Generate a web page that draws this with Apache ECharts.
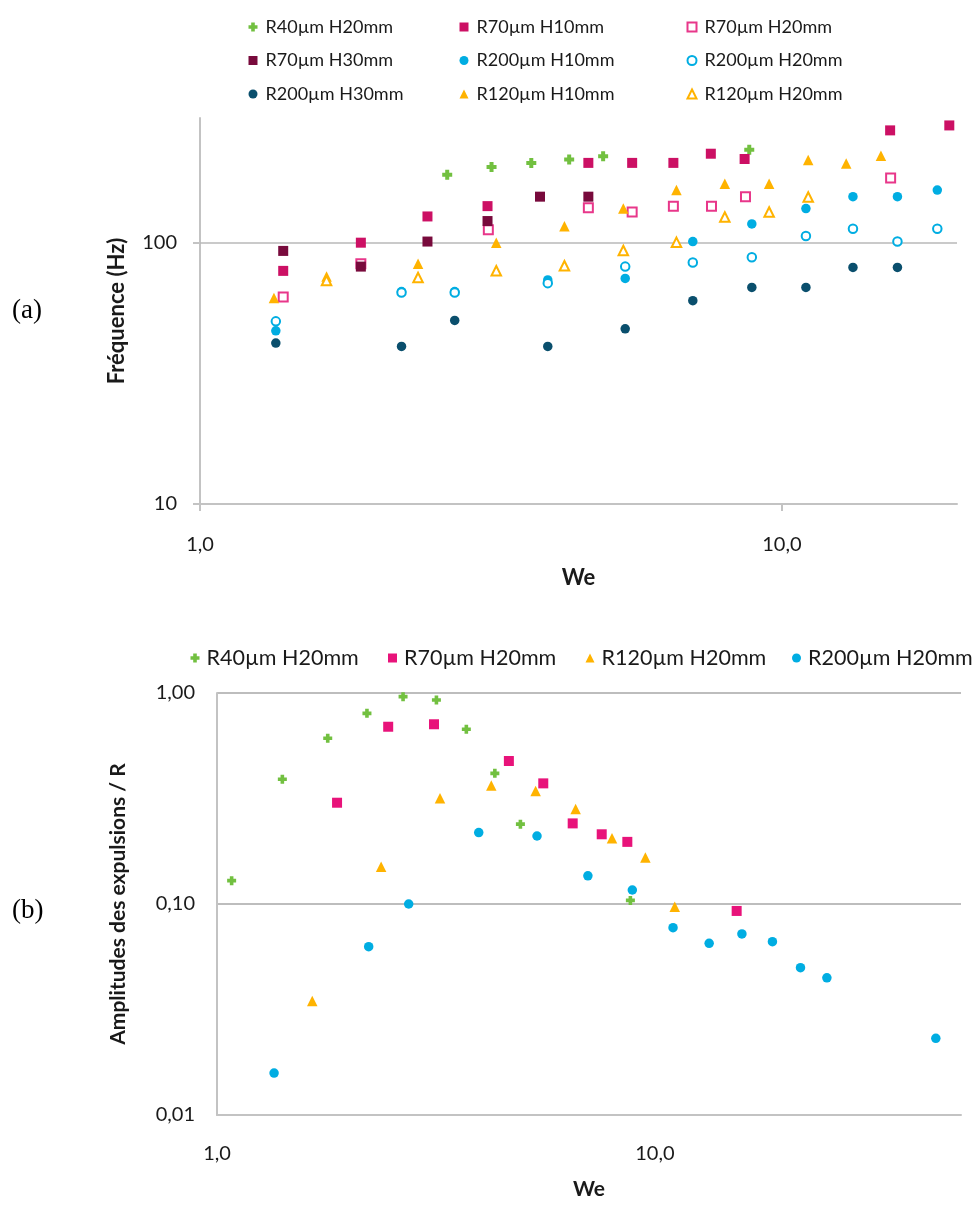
<!DOCTYPE html>
<html><head><meta charset="utf-8">
<script src="https://cdn.jsdelivr.net/npm/echarts@6/dist/echarts.min.js"></script>
<style>html,body{margin:0;padding:0;background:#fff}#c{width:980px;height:1206px}</style>
</head><body><div id="c"></div>
<script>
// ---------- Chart (a): Fréquence (Hz) vs We ----------
const weA_R40H20 = [2.66, 3.17, 3.71, 4.31, 4.93, 8.79];
const fA_R40H20  = [182, 195, 202, 208, 214, 227];
const weA_R70H10 = [1.39, 1.89, 2.46, 3.12, 4.65, 5.53, 6.51, 7.55, 8.63, 15.35, 19.4];
const fA_R70H10  = [78, 100, 126, 138, 202, 202, 202, 219, 209, 269, 281];
const weA_R70H20 = [1.39, 1.89, 3.13, 4.65, 5.53, 6.51, 7.57, 8.66, 15.38];
const fA_R70H20  = [62, 83, 112, 136, 131, 138, 138, 150, 177];
const weA_R70H30 = [1.39, 1.89, 2.46, 3.12, 3.84, 4.65];
const fA_R70H30  = [93, 81, 101, 121, 150, 150];
const weA_R200   = [1.35, 2.22, 2.74, 3.96, 5.38, 7.03, 8.88, 11.0, 13.25, 15.8, 18.5];
const fA_R200H10 = [46, 65, 65, 72, 73, 101, 118, 135, 150, 150, 159];
const fA_R200H20 = [50, 64.5, 64.5, 70, 81, 84, 88, 106, 113, 101, 113];
const weA_R200H30 = [1.35, 2.22, 2.74, 3.96, 5.38, 7.03, 8.88, 11.0, 13.25, 15.8];
const fA_R200H30 = [41.3, 40.1, 50.4, 40.1, 46.8, 60, 67.4, 67.4, 80.4, 80.4];
const weA_R120H10 = [1.34, 1.65, 2.37, 3.23, 4.23, 5.34, 6.59, 7.98, 9.51, 11.1, 12.9, 14.8];
const fA_R120H10 = [61.4, 74.3, 83, 100, 115.5, 135, 159, 168, 168, 207, 201, 215];
const weA_R120H20 = [1.65, 2.37, 3.23, 4.23, 5.34, 6.59, 7.98, 9.51, 11.1];
const fA_R120H20 = [71.7, 73.6, 78.1, 81.6, 93.4, 100.3, 125.4, 131.1, 149.6];

// ---------- Chart (b): Amplitudes des expulsions / R vs We ----------
const weB_R40  = [1.08, 1.41, 1.79, 2.20, 2.66, 3.17, 3.71, 4.31, 4.93, 8.79];
const ampB_R40 = [0.129, 0.390, 0.610, 0.801, 0.961, 0.926, 0.673, 0.416, 0.239, 0.104];
const weB_R70  = [1.88, 2.46, 3.13, 4.64, 5.56, 6.49, 7.56, 8.65, 15.37];
const ampB_R70 = [0.302, 0.692, 0.711, 0.476, 0.373, 0.241, 0.214, 0.197, 0.0927];
const weB_R120  = [1.65, 2.37, 3.23, 4.23, 5.34, 6.59, 7.98, 9.51, 11.1];
const ampB_R120 = [0.0347, 0.150, 0.317, 0.364, 0.343, 0.282, 0.205, 0.166, 0.0971];
const weB_R200  = [1.35, 2.22, 2.74, 3.96, 5.38, 7.03, 8.88, 11.0, 13.3, 15.8, 18.55, 21.5, 24.7, 43.8];
const ampB_R200 = [0.0158, 0.0628, 0.100, 0.218, 0.210, 0.136, 0.1165, 0.0772, 0.0651, 0.0721, 0.0663, 0.0499, 0.0447, 0.0231];

// ---------- Tick values ----------
const xTicks  = [1, 10];
const yTicksA = [10, 100];
const yTicksB = [0.01, 0.1, 1];
const gridValueA = 100;

const zip = (xs, ys) => xs.map((x, i) => [x, ys[i]]);
const PLUS = 'path://M3,0H7V3H10V7H7V10H3V7H0V3H3Z';
const FONT = 'Lato';
const TXT = '#1a1a1a';
const AXC = '#c3c3c3';

const C = {
  green: '#72c040', mag: '#cc1064', magOpen: '#e8378a', maroon: '#780a3c',
  blue: '#00ade2', teal: '#0a4f6d', orange: '#ffb300', pink: '#e8137a'
};

function sc(name, data, xi, symbol, size, style) {
  return { type: 'scatter', name, data, xAxisIndex: xi, yAxisIndex: xi,
    symbol, symbolSize: size, itemStyle: style, emphasis: { disabled: true }, z: 3 };
}
const filled = c => ({ color: c, opacity: 1 });
const open = c => ({ color: '#ffffff', borderColor: c, borderWidth: 2, opacity: 1 });

const seriesA = [
  sc('R40µm H20mm', zip(weA_R40H20, fA_R40H20), 0, PLUS, 10, filled(C.green)),
  sc('R70µm H10mm', zip(weA_R70H10, fA_R70H10), 0, 'rect', 10, filled(C.mag)),
  sc('R70µm H20mm', zip(weA_R70H20, fA_R70H20), 0, 'rect', 9, open(C.magOpen)),
  sc('R70µm H30mm', zip(weA_R70H30, fA_R70H30), 0, 'rect', 10, filled(C.maroon)),
  sc('R200µm H10mm', zip(weA_R200, fA_R200H10), 0, 'circle', 9.5, filled(C.blue)),
  sc('R200µm H20mm', zip(weA_R200, fA_R200H20), 0, 'circle', 8.5, open(C.blue)),
  sc('R200µm H30mm', zip(weA_R200H30, fA_R200H30), 0, 'circle', 9.5, filled(C.teal)),
  sc('R120µm H10mm', zip(weA_R120H10, fA_R120H10), 0, 'triangle', 10.5, filled(C.orange)),
  sc('R120µm H20mm', zip(weA_R120H20, fA_R120H20), 0, 'triangle', 9.5, open(C.orange))
];
seriesA[0].markLine = {
  silent: true, symbol: 'none', label: { show: false }, z: 1,
  lineStyle: { color: '#b8b8b8', width: 1.5, type: 'solid' },
  data: [{ yAxis: gridValueA }]
};

const Z = '\u200b';
const seriesB = [
  sc('R40µm H20mm' + Z, zip(weB_R40, ampB_R40), 1, PLUS, 9, filled(C.green)),
  sc('R70µm H20mm' + Z, zip(weB_R70, ampB_R70), 1, 'rect', 10, filled(C.pink)),
  sc('R120µm H20mm' + Z, zip(weB_R120, ampB_R120), 1, 'triangle', 10.5, filled(C.orange)),
  sc('R200µm H20mm' + Z, zip(weB_R200, ampB_R200), 1, 'circle', 9.5, filled(C.blue))
];

function legV(left, names) {
  return { orient: 'vertical', left, top: 10, itemGap: 9.5, itemWidth: 9, itemHeight: 9,
    textStyle: { fontFamily: FONT, fontSize: 18, color: TXT, lineHeight: 24, padding: [0, 0, 0, 3] },
    data: names, selectedMode: false };
}
function legH(left, name) {
  return { orient: 'horizontal', left, top: 641, itemWidth: 9, itemHeight: 9,
    textStyle: { fontFamily: FONT, fontSize: 21.5, color: TXT, lineHeight: 24, padding: [0, 0, 0, 2] },
    data: [name], selectedMode: false };
}

const fmtA_y = v => String(Math.round(v));
const fmtX = v => v.toFixed(1).replace('.', ',');
const fmtB_y = v => v.toFixed(2).replace('.', ',');

const labStyle = { fontFamily: FONT, fontSize: 20, color: TXT };
const nameStyleA = { fontFamily: FONT, fontSize: 22, fontWeight: 'bold', color: TXT };
const nameStyleB = { fontFamily: FONT, fontSize: 21, fontWeight: 'bold', color: TXT };

const option = {
  backgroundColor: '#ffffff',
  animation: false,
  legend: [
    legV(243.5, ['R40µm H20mm', 'R70µm H30mm', 'R200µm H30mm']),
    legV(454.5, ['R70µm H10mm', 'R200µm H10mm', 'R120µm H10mm']),
    legV(681.5, ['R70µm H20mm', 'R200µm H20mm', 'R120µm H20mm']),
    legH(185.5, 'R40µm H20mm' + Z),
    legH(383, 'R70µm H20mm' + Z),
    legH(580.5, 'R120µm H20mm' + Z),
    legH(787, 'R200µm H20mm' + Z)
  ],
  grid: [
    { left: 200, top: 118, width: 757, height: 386 },
    { left: 217, top: 693, width: 744, height: 422 }
  ],
  xAxis: [
    { type: 'log', logBase: 10, gridIndex: 0, min: 1, max: 20,
      name: 'We', nameLocation: 'middle', nameGap: 63, nameTextStyle: nameStyleA,
      axisLine: { lineStyle: { color: AXC, width: 2 } },
      axisTick: { show: true, length: 7, customValues: xTicks, lineStyle: { color: AXC, width: 2 } },
      axisLabel: { customValues: xTicks, formatter: fmtX, margin: 31, ...labStyle },
      splitLine: { show: false }, minorTick: { show: false } },
    { type: 'log', logBase: 10, gridIndex: 1, min: 1, max: 50,
      name: 'We', nameLocation: 'middle', nameGap: 64, nameTextStyle: nameStyleB,
      axisLine: { lineStyle: { color: AXC, width: 2 } },
      axisTick: { show: false },
      axisLabel: { customValues: xTicks, formatter: fmtX, margin: 29, ...labStyle },
      splitLine: { show: false } }
  ],
  yAxis: [
    { type: 'log', logBase: 10, gridIndex: 0, min: 10, max: 300,
      name: 'Fréquence (Hz)', nameLocation: 'middle', nameGap: 72, nameRotate: 90, nameTextStyle: nameStyleA,
      axisLine: { show: true, lineStyle: { color: AXC, width: 2 } },
      axisTick: { show: true, length: 7, customValues: yTicksA, lineStyle: { color: AXC, width: 2 } },
      axisLabel: { customValues: yTicksA, formatter: fmtA_y, margin: 23, ...labStyle },
      splitLine: { show: false } },
    { type: 'log', logBase: 10, gridIndex: 1, min: 0.01, max: 1,
      name: 'Amplitudes des expulsions / R', nameLocation: 'middle', nameGap: 88, nameRotate: 90, nameTextStyle: nameStyleB,
      axisLine: { show: true, lineStyle: { color: AXC, width: 2 } },
      axisTick: { show: false },
      axisLabel: { customValues: yTicksB, formatter: fmtB_y, margin: 22, ...labStyle },
      splitLine: { show: true, lineStyle: { color: '#bdbdbd', width: 2 } } }
  ],
  graphic: [
    { type: 'text', left: 12, top: 297, style: { text: '(a)', fontFamily: 'Liberation Serif', fontSize: 27, fill: '#000' } },
    { type: 'text', left: 12, top: 897, style: { text: '(b)', fontFamily: 'Liberation Serif', fontSize: 27, fill: '#000' } }
  ],
  series: seriesA.concat(seriesB)
};

const chart = echarts.init(document.getElementById('c'), null, { renderer: 'canvas' });
chart.setOption(option);
</script>
</body></html>
